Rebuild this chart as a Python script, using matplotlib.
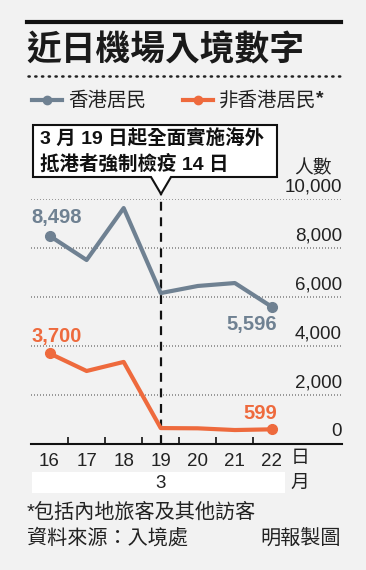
import matplotlib
matplotlib.use("Agg")
import matplotlib.pyplot as plt
from matplotlib.patches import Polygon, Rectangle
from matplotlib.lines import Line2D

plt.rcParams['font.family'] = ['Liberation Sans', 'Noto Sans CJK TC', 'DejaVu Sans']

# data
dias = [16, 17, 18, 19, 20, 21, 22]
residentes = [8498, 7510, 9630, 6160, 6450, 6570, 5596]
nao_residentes = [3700, 2980, 3350, 650, 640, 570, 599]
yticks = [0, 2000, 4000, 6000, 8000, 10000]
ytick_labels = ["0", "2,000", "4,000", "6,000", "8,000", "10,000"]

cinza = "#6f8192"
laranja = "#ee6a3d"
fundo = "#f2f2f2"

W, H = 366, 570
fig = plt.figure(figsize=(W / 100, H / 100), dpi=100, facecolor=fundo)


def px(x, y):
    return x / W, 1 - y / H


def ftext(x, y, s, **kw):
    fx, fy = px(x, y)
    return fig.text(fx, fy, s, **kw)


# header
fig.add_artist(Line2D([27 / W, 341 / W], [px(0, 22)[1]] * 2, color="#111111", lw=3))
ftext(26, 50, "近日機場入境數字", fontsize=25, fontweight="black", va="center",
      family=["Noto Sans CJK TC"], color="#1a1a1a")
fig.add_artist(Line2D([28 / W, 341 / W], [px(0, 76)[1]] * 2, color="#222222", lw=1.8,
                      linestyle=(0, (0.5, 2.2)), dash_capstyle="round"))

# legend
for x0, cor, txt in [(32, cinza, "香港居民"), (183, laranja, "非香港居民")]:
    fig.add_artist(Line2D([x0 / W, (x0 + 30) / W], [px(0, 100)[1]] * 2, color=cor, lw=3))
    fig.add_artist(Line2D([(x0 + 15) / W], [px(0, 100)[1]], color=cor, marker="o",
                          markersize=6, lw=0))
    ftext(x0 + 36, 100, txt, fontsize=14, va="center", color="#222222")
ftext(316, 99, "*", fontsize=14, fontweight="bold", va="center", color="#222222")

# axes
left, bottom = px(31, 444)
ax = fig.add_axes([left, bottom, 311 / W, 245 / H])
ax.set_facecolor("none")
ax.set_xlim(15.5, 23.89)
ax.set_ylim(0, 10000)
for s in ["top", "right", "left"]:
    ax.spines[s].set_visible(False)
ax.spines["bottom"].set_linewidth(1.5)
ax.spines["bottom"].set_color("#111111")
ax.set_xticks([16.5, 17.5, 18.5, 19.5, 20.5, 21.5])
ax.set_xticklabels([])
ax.tick_params(axis="x", length=5, width=1.2, color="#111111", direction="in")
ax.set_yticks([])

for v, lab in zip(yticks, ytick_labels):
    if v > 0:
        ax.axhline(v, color="#888888", lw=1.2, linestyle=(0, (0.6, 1.2)), zorder=1)
    ax.text(23.89, v + 150, lab, ha="right", va="bottom", fontsize=13.5, color="#222222")
ax.text(23.6, 10900, "人數", ha="right", va="bottom", fontsize=13.5, color="#222222")

# lines
ax.plot(dias, residentes, color=cinza, lw=3, zorder=3)
ax.plot([dias[0], dias[-1]], [residentes[0], residentes[-1]], "o", color=cinza, ms=7, zorder=4)
ax.plot(dias, nao_residentes, color=laranja, lw=3, zorder=3)
ax.plot([dias[0], dias[-1]], [nao_residentes[0], nao_residentes[-1]], "o", color=laranja, ms=7, zorder=4)

ax.text(15.5, residentes[0] + 350, "8,498", color=cinza, fontsize=14.5, fontweight="bold", va="bottom")
ax.text(22.15, residentes[-1] - 350, "5,596", color=cinza, fontsize=14.5, fontweight="bold",
        ha="right", va="top")
ax.text(15.5, nao_residentes[0] + 300, "3,700", color=laranja, fontsize=14.5, fontweight="bold", va="bottom")
ax.text(22.15, nao_residentes[-1] + 250, "599", color=laranja, fontsize=14.5, fontweight="bold",
        ha="right", va="bottom")

# dashed line at 19
ax.plot([19, 19], [0, 10250], color="#111111", lw=1.6, linestyle=(0, (4, 3)), clip_on=False, zorder=2)

# x labels
for d in dias:
    ax.text(d, -350, str(d), ha="center", va="top", fontsize=13.5, color="#222222")
ftext(300, 458, "日", fontsize=13.5, ha="center", va="center", color="#222222")

fig.add_artist(Rectangle(px(32, 493), 253 / W, 21 / H, facecolor="white", edgecolor="none"))
ftext(161, 483, "3", fontsize=13.5, ha="center", va="center", color="#222222")
ftext(300, 483, "月", fontsize=13.5, ha="center", va="center", color="#222222")

# annotation box
pts = [(33, 125), (277, 125), (277, 177), (171, 177), (161, 194), (151, 177), (33, 177)]
fig.add_artist(Polygon([px(x, y) for x, y in pts], closed=True, facecolor="white",
                       edgecolor="#111111", lw=1.5, zorder=5))
ftext(40, 139, "3 月 19 日起全面實施海外", fontsize=14, fontweight="bold",
      va="center", color="#111111", zorder=6)
ftext(40, 164, "抵港者強制檢疫 14 日", fontsize=14, fontweight="bold",
      va="center", color="#111111", zorder=6)

# footer
ftext(27, 512, "*包括內地旅客及其他訪客", fontsize=14.5, va="center", color="#222222")
ftext(27, 538, "資料來源：入境處", fontsize=14.5, va="center", color="#222222")
ftext(341, 538, "明報製圖", fontsize=14.5, va="center", ha="right", color="#222222")

fig.savefig("out.png", dpi=100, facecolor=fundo)
